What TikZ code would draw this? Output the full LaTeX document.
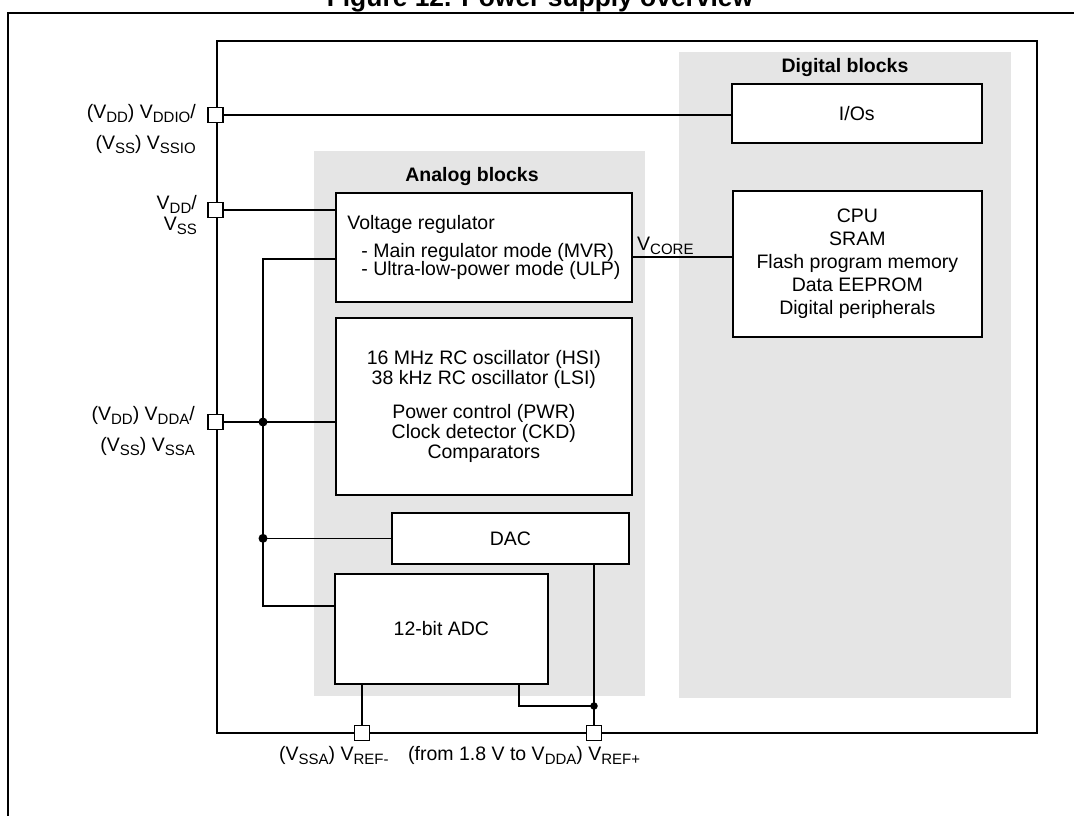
\documentclass[tikz,border=0pt]{standalone}
\usepackage{fontspec}
\setmainfont{Liberation Sans}
\usepackage{tikz}
\usetikzlibrary{calc,positioning}
\usepackage{xcolor}
\definecolor{blockgray}{HTML}{E5E5E5}
\newcommand{\Vsub}[1]{V\raisebox{-4.5pt}{\fontsize{15}{15}\selectfont #1}}

\begin{document}
\begin{tikzpicture}[x=1pt,y=-1pt,font=\fontsize{19.5}{23}\selectfont,
  box/.style={draw,line width=1.7pt,fill=white,anchor=north west,align=center,inner sep=0pt},
  pin/.style={draw,line width=1.7pt,fill=white,minimum size=15pt,inner sep=0pt},
  wire/.style={line width=1.6pt},
  dot/.style={circle,fill,inner sep=0pt,minimum size=9pt},
  pinlabel/.style={anchor=east,align=right,inner sep=0pt},
  grouplabel/.style={font=\fontsize{19.5}{23}\selectfont\bfseries}]
\useasboundingbox (0,0) rectangle (1074,815);
\begin{scope}
\clip (0,0) rectangle (1074,815);
\node[font=\fontsize{26.4}{28}\selectfont\bfseries,anchor=base] (title) at (540,6) {Figure 12. Power supply overview};
\draw[line width=2pt] (8,900) -- (8,13) -- (1200,13);
\end{scope}
% shaded groups
\fill[blockgray] (314,151) rectangle (645,696);
\fill[blockgray] (679,52) rectangle (1011,698);
\node[grouplabel] (analog) at (472,176) {Analog blocks};
\node[grouplabel] (digital) at (845,67) {Digital blocks};
% chip outline
\draw[line width=2pt] (217,41) rectangle (1037,733);
% blocks
\node[box,minimum width=250pt,minimum height=59pt] (io) at (731,83) {I/Os};
\node[box,minimum width=249pt,minimum height=146pt] (cpu) at (732,190)
  {CPU\\SRAM\\Flash program memory\\Data EEPROM\\Digital peripherals};
\node[box,align=left,minimum width=296pt,minimum height=109pt,font=\fontsize{19.5}{18.5}\selectfont] (vr) at (335,192)
  {Voltage regulator\\[9.5pt]\hspace*{14pt}- Main regulator mode (MVR)\\\hspace*{14pt}- Ultra-low-power mode (ULP)};
\node[box,minimum width=296pt,minimum height=177pt,font=\fontsize{19.5}{20}\selectfont] (osc) at (335,317)
  {16 MHz RC oscillator (HSI)\\38 kHz RC oscillator (LSI)\\[14pt]Power control (PWR)\\Clock detector (CKD)\\Comparators};
\node[box,minimum width=237pt,minimum height=51pt] (dac) at (391,512) {DAC};
\node[box,minimum width=213pt,minimum height=110pt] (adc) at (334,573) {12-bit ADC};
% pins
\node[pin] (pddio) at (215.5,115) {};
\node[pin] (pdd) at (215.5,210) {};
\node[pin] (pdda) at (215.5,422) {};
\node[pin] (prefm) at (362,733) {};
\node[pin] (prefp) at (594,733) {};
% wiring
\coordinate (bustop) at (263,259);
\coordinate (busbot) at (263,606);
\coordinate (core) at (631,257);
\coordinate (refjoin) at (594,706);
\draw[wire] (pddio.east) -- (pddio.east -| io.west);
\draw[wire] (pdd.east) -- (pdd.east -| vr.west);
\draw[wire] (pdda.east) -- (pdda.east -| osc.west);
\draw[wire] (bustop -| vr.west) -- (bustop) -- (busbot) -- (busbot -| adc.west);
\draw[wire] (bustop |- dac.west) -- (dac.west);
\draw[wire] (core) -- (core -| cpu.west);
\draw[wire] (prefm.north) -- (prefm.north |- adc.south);
\draw[wire] (prefp.north) -- (prefp.north |- dac.south);
\draw[wire] ($(adc.south east)+(-30,0)$) |- (refjoin);
\node[dot] (dota) at (bustop |- pdda) {};
\node[dot] (dotb) at (bustop |- dac.west) {};
\node[dot,minimum size=7.5pt] (dotc) at (refjoin) {};
% pin names
\node[pinlabel,font=\fontsize{19.5}{31}\selectfont] (lddio) at (196,129) {(\Vsub{DD}) \Vsub{DDIO}/\\(\Vsub{SS}) \Vsub{SSIO}};
\node[pinlabel,font=\fontsize{19.5}{21}\selectfont] (ldd) at (197,215) {\Vsub{DD}/\\\Vsub{SS}};
\node[pinlabel,font=\fontsize{19.5}{31}\selectfont] (ldda) at (195,431) {(\Vsub{DD}) \Vsub{DDA}/\\(\Vsub{SS}) \Vsub{SSA}};
\node[anchor=base west,inner sep=0pt] (lcore) at (637,250) {\Vsub{CORE}};
\node[anchor=base west,inner sep=0pt] (lrefm) at (279,760) {(\Vsub{SSA}) \Vsub{REF-}};
\node[anchor=base west,inner sep=0pt] (lrefp) at (408,760) {(from 1.8 V to \Vsub{DDA}) \Vsub{REF+}};
\end{tikzpicture}
\end{document}
